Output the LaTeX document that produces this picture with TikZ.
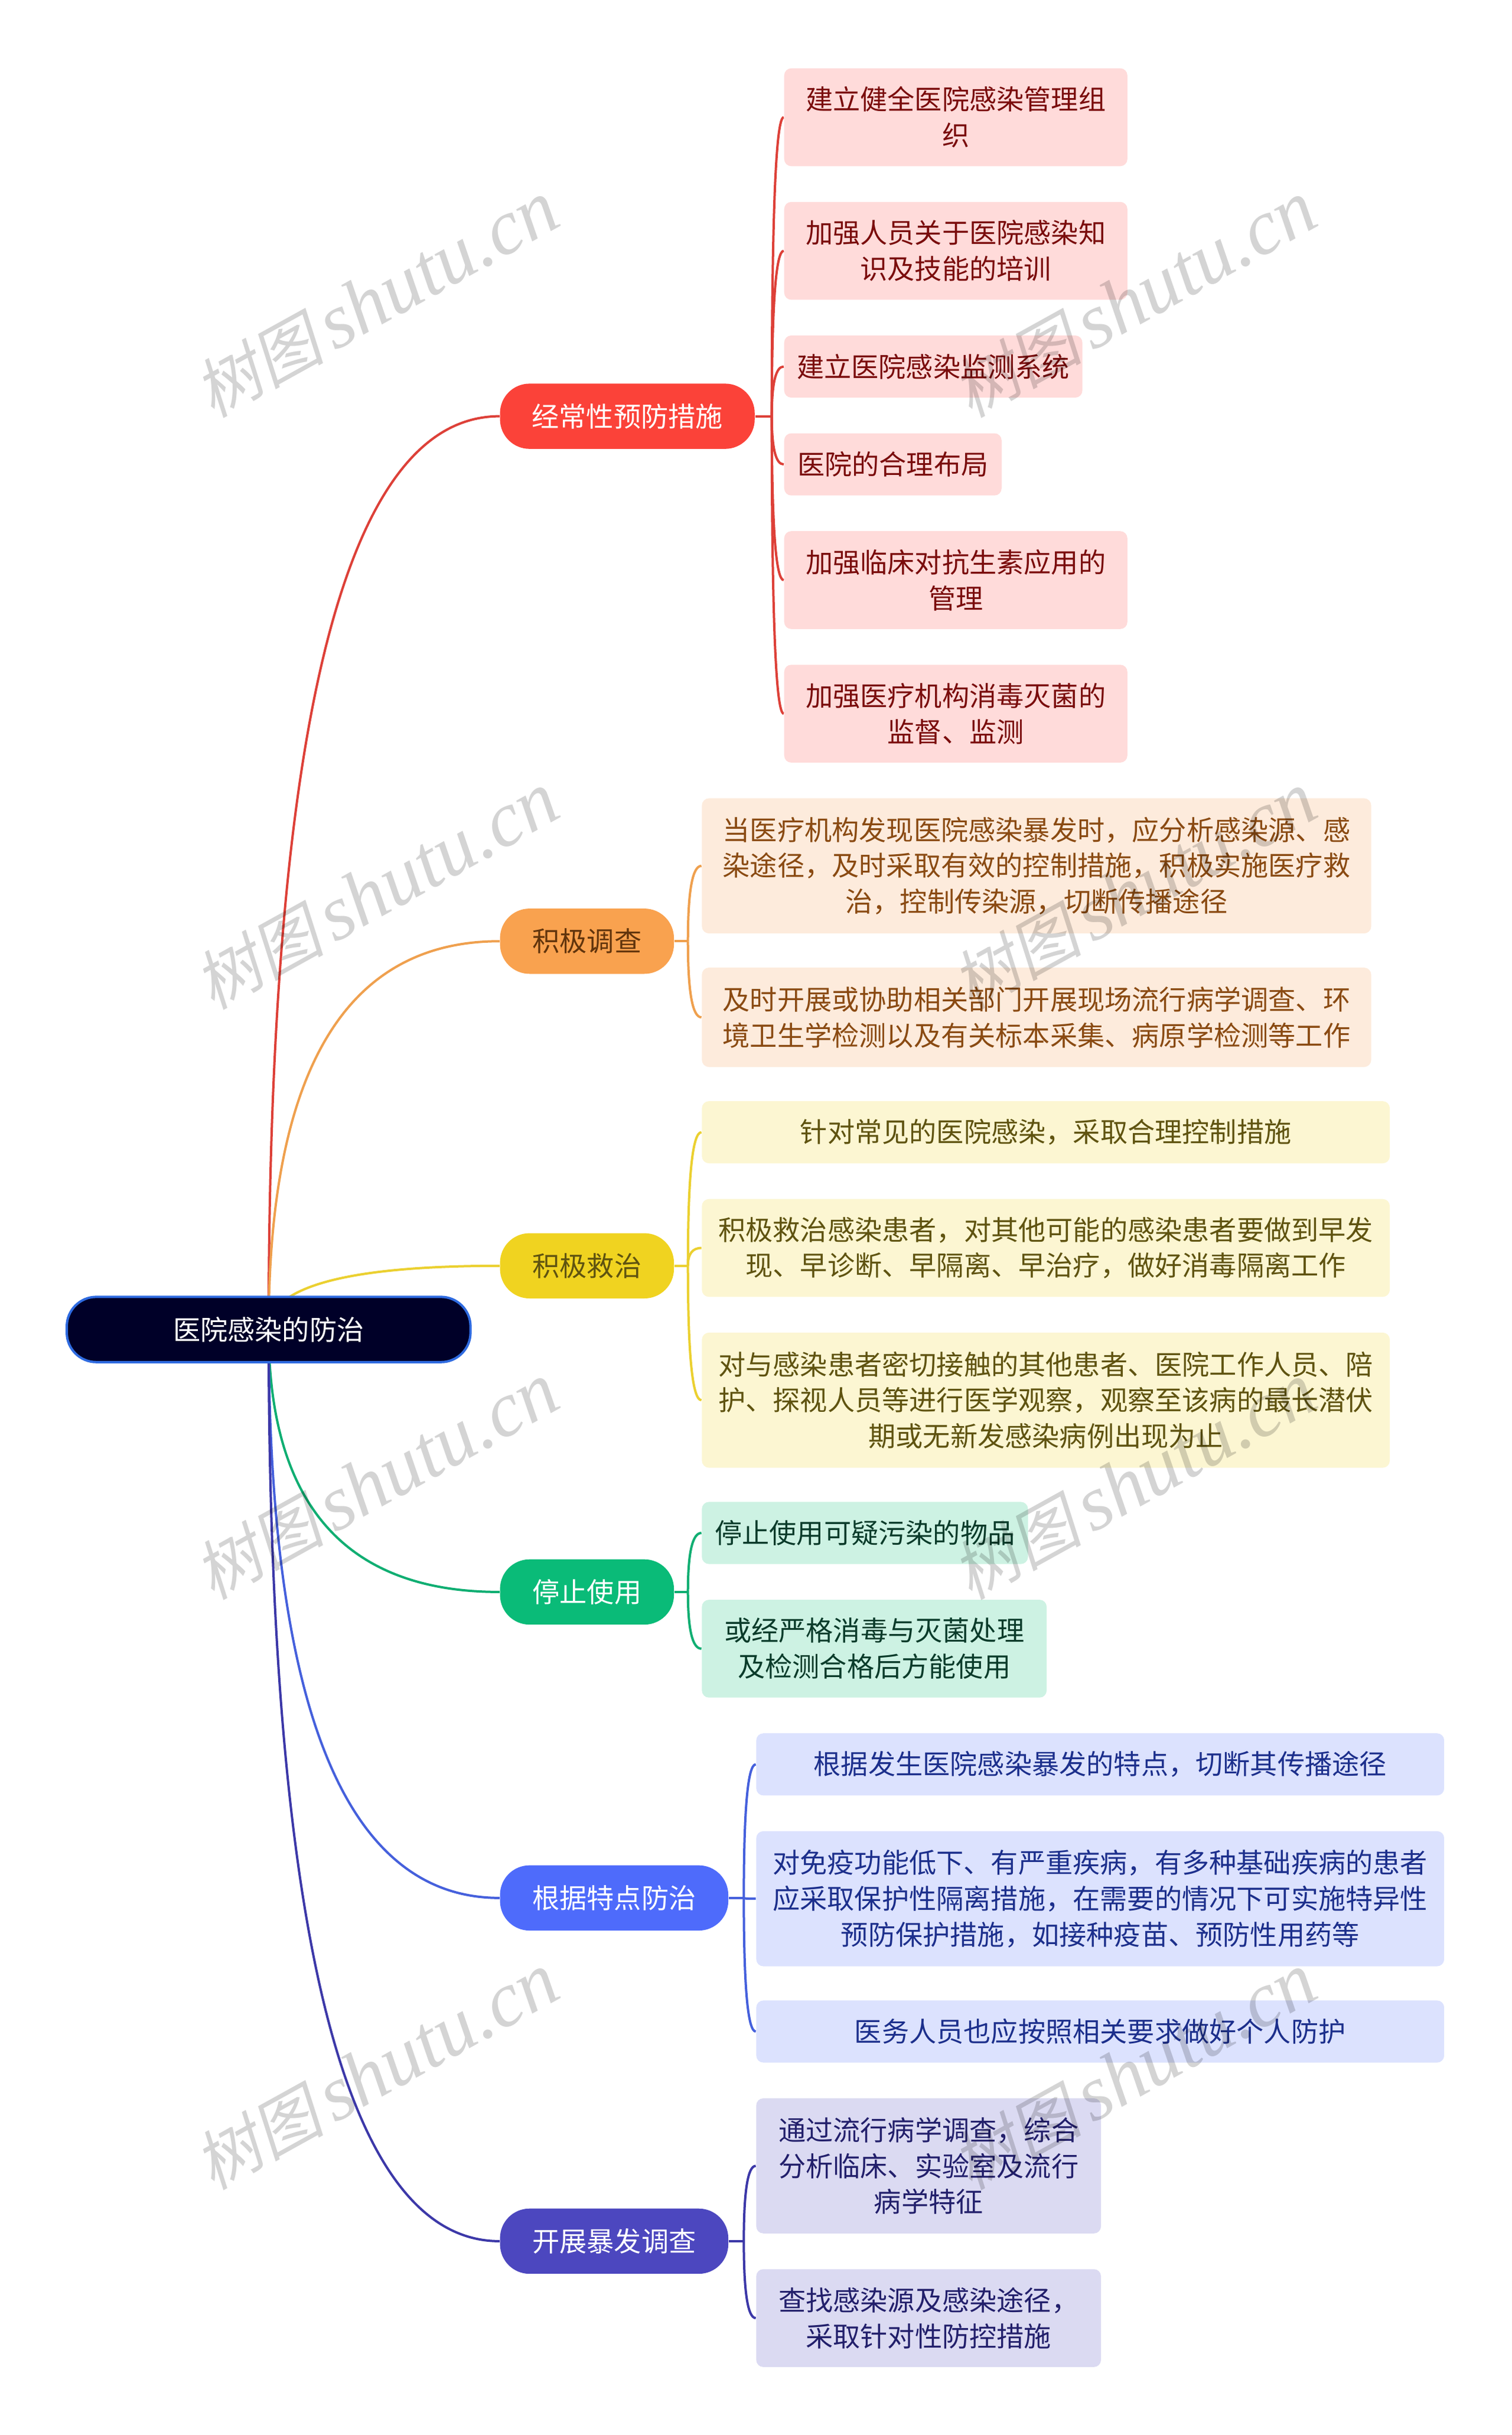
\documentclass[tikz,border=0pt]{standalone}
\usepackage{fontspec}
\setmainfont{Noto Sans CJK SC}
\newfontfamily\markcjk[FakeSlant=0.2]{Noto Sans CJK SC}
\newfontfamily\marklatin{Liberation Serif}[ItalicFont={Liberation Serif Italic}]
\usetikzlibrary{calc,backgrounds}
\newcommand{\mapfont}{\fontsize{11.55}{15.2}\selectfont}
\newcommand{\marktext}{{\markcjk\fontsize{27.5}{30}\selectfont 树图}\hspace{4pt}{\marklatin\itshape\fontsize{33}{34}\selectfont shutu.cn}}
\newcommand{\branchlink}[3]{%
  \draw[link,draw=#1] (#2) .. controls ($(#2)!2/3!(#2 |- #3.west)$) and ($(#3.west)!2/3!(#2 |- #3.west)$) .. (#3.west);}
\tikzset{
    boxsize/.style 2 args = {
        minimum width  = #1*0.6573pt,
        minimum height = #2*0.6573pt,
    },
    link/.style = {
        line width = 1pt,
    },
    mapbox/.style = {
        rectangle,
        inner sep = 0pt,
        align     = center,
        font      = \mapfont,
    },
    rootbox/.style = {
        mapbox,
        fill          = rootfill,
        draw          = rootline,
        line width    = 1pt,
        text          = white,
        rounded corners = 12.5pt,
        boxsize       = {260}{42},
    },
    branchbox/.style = {
        mapbox,
        rounded corners = 12.5pt,
    },
    leafbox/.style = {
        mapbox,
        rounded corners = 3pt,
    },
    watermark/.style = {
        rotate     = 29,
        inner sep  = 0pt,
        text       = black,
        text opacity = .17,
    },
}
\definecolor{rootfill}{HTML}{000028}
\definecolor{rootline}{HTML}{2F6BE0}
\definecolor{redmain}{HTML}{FB4239}
\definecolor{redline}{HTML}{DD4038}
\definecolor{redleaf}{HTML}{FFDBDA}
\definecolor{redtext}{HTML}{7A0C0C}
\definecolor{orangemain}{HTML}{F9A24F}
\definecolor{orangeline}{HTML}{EFA04E}
\definecolor{orangeleaf}{HTML}{FDEBDC}
\definecolor{orangetext}{HTML}{8A4A12}
\definecolor{yellowmain}{HTML}{F0D320}
\definecolor{yellowline}{HTML}{EBD030}
\definecolor{yellowleaf}{HTML}{FCF6D2}
\definecolor{yellowtext}{HTML}{5F5310}
\definecolor{greenmain}{HTML}{0ABB78}
\definecolor{greenline}{HTML}{10AE72}
\definecolor{greenleaf}{HTML}{CDF2E3}
\definecolor{greentext}{HTML}{0A3B2A}
\definecolor{bluemain}{HTML}{4E6BFB}
\definecolor{blueline}{HTML}{4560DC}
\definecolor{blueleaf}{HTML}{DCE2FE}
\definecolor{bluetext}{HTML}{1C2F8C}
\definecolor{indigomain}{HTML}{4C47BF}
\definecolor{indigoline}{HTML}{3C38A8}
\definecolor{indigoleaf}{HTML}{DBDAF2}
\definecolor{indigotext}{HTML}{221F6B}

\begin{document}
\begin{tikzpicture}[x=0.6573pt,y=-0.6573pt]
  \useasboundingbox (0,0) rectangle (973.7,1567.8);

  \node[rootbox] (Root) at (173,856) {医院感染的防治};

  % Branches
  \node[branchbox,fill=redmain,text=white,boxsize={164}{42}] (Regular) at (404,268) {经常性预防措施};
  \node[branchbox,fill=orangemain,text=orangetext!70!black,boxsize={112}{42}] (Survey) at (378,606) {积极调查};
  \node[branchbox,fill=yellowmain,text=yellowtext,boxsize={112}{42}] (Rescue) at (378,815) {积极救治};
  \node[branchbox,fill=greenmain,text=white,boxsize={112}{42}] (Stop) at (378,1025) {停止使用};
  \node[branchbox,fill=bluemain,text=white,boxsize={147}{42}] (Feature) at (395.5,1222) {根据特点防治};
  \node[branchbox,fill=indigomain,text=white,boxsize={147}{42}] (Outbreak) at (395.5,1443) {开展暴发调查};

  % Regular
  \node[leafbox,fill=redleaf,text=redtext,boxsize={221}{63}] (RegularA) at (615.5,75.5) {建立健全医院感染管理组\\织};
  \node[leafbox,fill=redleaf,text=redtext,boxsize={221}{63}] (RegularB) at (615.5,161.5) {加强人员关于医院感染知\\识及技能的培训};
  \node[leafbox,fill=redleaf,text=redtext,boxsize={192}{40}] (RegularC) at (601,236) {建立医院感染监测系统};
  \node[leafbox,fill=redleaf,text=redtext,boxsize={140}{40}] (RegularD) at (575,299) {医院的合理布局};
  \node[leafbox,fill=redleaf,text=redtext,boxsize={221}{63}] (RegularE) at (615.5,373.5) {加强临床对抗生素应用的\\管理};
  \node[leafbox,fill=redleaf,text=redtext,boxsize={221}{63}] (RegularF) at (615.5,459.5) {加强医疗机构消毒灭菌的\\监督、监测};

  % Survey
  \node[leafbox,fill=orangeleaf,text=orangetext,boxsize={431}{87}] (SurveyA) at (667.5,557.5) {当医疗机构发现医院感染暴发时，应分析感染源、感\\染途径，及时采取有效的控制措施，积极实施医疗救\\治，控制传染源，切断传播途径};
  \node[leafbox,fill=orangeleaf,text=orangetext,boxsize={431}{64}] (SurveyB) at (667.5,655) {及时开展或协助相关部门开展现场流行病学调查、环\\境卫生学检测以及有关标本采集、病原学检测等工作};

  % Rescue
  \node[leafbox,fill=yellowleaf,text=yellowtext,boxsize={443}{40}] (RescueA) at (673.5,729) {针对常见的医院感染，采取合理控制措施};
  \node[leafbox,fill=yellowleaf,text=yellowtext,boxsize={443}{63}] (RescueB) at (673.5,803.5) {积极救治感染患者，对其他可能的感染患者要做到早发\\现、早诊断、早隔离、早治疗，做好消毒隔离工作};
  \node[leafbox,fill=yellowleaf,text=yellowtext,boxsize={443}{87}] (RescueC) at (673.5,901.5) {对与感染患者密切接触的其他患者、医院工作人员、陪\\护、探视人员等进行医学观察，观察至该病的最长潜伏\\期或无新发感染病例出现为止};

  % Stop
  \node[leafbox,fill=greenleaf,text=greentext,boxsize={210}{40}] (StopA) at (557,987) {停止使用可疑污染的物品};
  \node[leafbox,fill=greenleaf,text=greentext,boxsize={222}{63}] (StopB) at (563,1061.5) {或经严格消毒与灭菌处理\\及检测合格后方能使用};

  % Feature
  \node[leafbox,fill=blueleaf,text=bluetext,boxsize={443}{40}] (FeatureA) at (708.5,1136) {根据发生医院感染暴发的特点，切断其传播途径};
  \node[leafbox,fill=blueleaf,text=bluetext,boxsize={443}{87}] (FeatureB) at (708.5,1222.5) {对免疫功能低下、有严重疾病，有多种基础疾病的患者\\应采取保护性隔离措施，在需要的情况下可实施特异性\\预防保护措施，如接种疫苗、预防性用药等};
  \node[leafbox,fill=blueleaf,text=bluetext,boxsize={443}{40}] (FeatureC) at (708.5,1308) {医务人员也应按照相关要求做好个人防护};

  % Outbreak
  \node[leafbox,fill=indigoleaf,text=indigotext,boxsize={222}{87}] (OutbreakA) at (598,1394.5) {通过流行病学调查，综合\\分析临床、实验室及流行\\病学特征};
  \node[leafbox,fill=indigoleaf,text=indigotext,boxsize={222}{63}] (OutbreakB) at (598,1492.5) {查找感染源及感染途径，\\采取针对性防控措施};

  \coordinate (JuncRegular) at (497,268);
  \coordinate (JuncSurvey) at (443,606);
  \coordinate (JuncRescue) at (443,815);
  \coordinate (JuncStop) at (443,1025);
  \coordinate (JuncFeature) at (479,1222);
  \coordinate (JuncOutbreak) at (479,1443);

  \begin{scope}[on background layer]
    % Root to branches
    \branchlink{redline}{Root.center}{Regular}
    \branchlink{orangeline}{Root.center}{Survey}
    \branchlink{yellowline}{Root.center}{Rescue}
    \branchlink{greenline}{Root.center}{Stop}
    \branchlink{blueline}{Root.center}{Feature}
    \branchlink{indigoline}{Root.center}{Outbreak}

    % Branches to leaves
    \draw[link,draw=redline] (Regular) to (JuncRegular);
    \branchlink{redline}{JuncRegular}{RegularA}
    \branchlink{redline}{JuncRegular}{RegularB}
    \branchlink{redline}{JuncRegular}{RegularC}
    \branchlink{redline}{JuncRegular}{RegularD}
    \branchlink{redline}{JuncRegular}{RegularE}
    \branchlink{redline}{JuncRegular}{RegularF}

    \draw[link,draw=orangeline] (Survey) to (JuncSurvey);
    \branchlink{orangeline}{JuncSurvey}{SurveyA}
    \branchlink{orangeline}{JuncSurvey}{SurveyB}

    \draw[link,draw=yellowline] (Rescue) to (JuncRescue);
    \branchlink{yellowline}{JuncRescue}{RescueA}
    \branchlink{yellowline}{JuncRescue}{RescueB}
    \branchlink{yellowline}{JuncRescue}{RescueC}

    \draw[link,draw=greenline] (Stop) to (JuncStop);
    \branchlink{greenline}{JuncStop}{StopA}
    \branchlink{greenline}{JuncStop}{StopB}

    \draw[link,draw=blueline] (Feature) to (JuncFeature);
    \branchlink{blueline}{JuncFeature}{FeatureA}
    \branchlink{blueline}{JuncFeature}{FeatureB}
    \branchlink{blueline}{JuncFeature}{FeatureC}

    \draw[link,draw=indigoline] (Outbreak) to (JuncOutbreak);
    \branchlink{indigoline}{JuncOutbreak}{OutbreakA}
    \branchlink{indigoline}{JuncOutbreak}{OutbreakB}
  \end{scope}

  % Watermarks
  \node[watermark] (MarkA) at (242.5,193) {\marktext};
  \node[watermark] (MarkB) at (730.5,193) {\marktext};
  \node[watermark] (MarkC) at (242.5,574) {\marktext};
  \node[watermark] (MarkD) at (730.5,574) {\marktext};
  \node[watermark] (MarkE) at (242.5,954) {\marktext};
  \node[watermark] (MarkF) at (730.5,954) {\marktext};
  \node[watermark] (MarkG) at (242.5,1334) {\marktext};
  \node[watermark] (MarkH) at (730.5,1334) {\marktext};
\end{tikzpicture}
\end{document}
